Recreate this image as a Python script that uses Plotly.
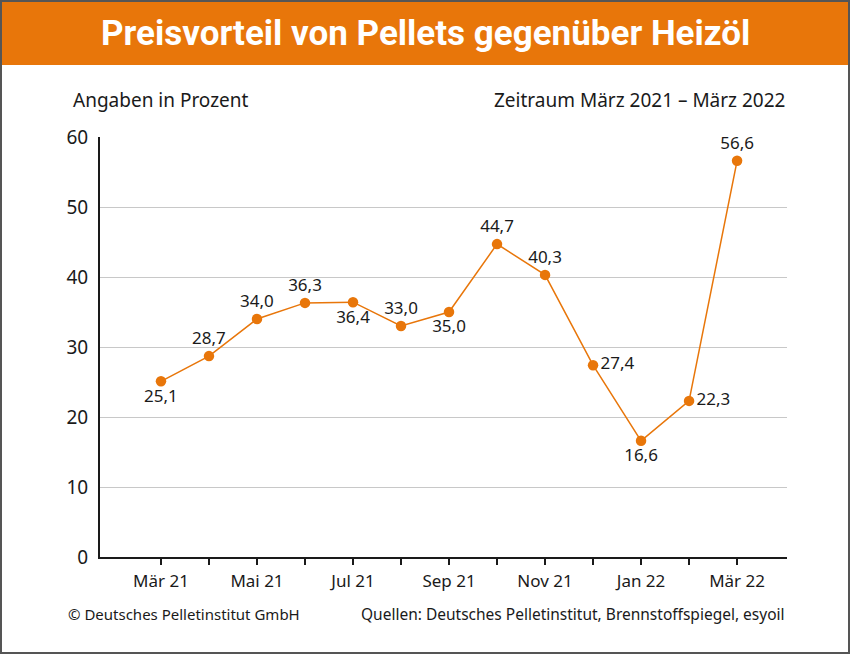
import plotly.graph_objects as go

months = ["Mär 21", "Apr 21", "Mai 21", "Jun 21", "Jul 21", "Aug 21", "Sep 21",
          "Okt 21", "Nov 21", "Dez 21", "Jan 22", "Feb 22", "Mär 22"]
values = [25.1, 28.7, 34.0, 36.3, 36.4, 33.0, 35.0, 44.7, 40.3, 27.4, 16.6, 22.3, 56.6]
label_pos = ["bottom center", "top center", "top center", "top center", "bottom center",
             "top center", "bottom center", "top center", "top center", "middle right",
             "bottom center", "middle right", "top center"]
shown_ticks = ["Mär 21", "Mai 21", "Jul 21", "Sep 21", "Nov 21", "Jan 22", "Mär 22"]
y_ticks = [0, 10, 20, 30, 40, 50, 60]

ORANGE = "#E8760A"
FONT = "Noto Sans"
W, H = 850, 654
L, R, T, B = 100, 787, 137, 557

def px(x):
    return (x - L) / (R - L)

def py(y):
    return (B - y) / (B - T)

idx = list(range(len(months)))
texts = [f"{v:.1f}".replace(".", ",") for v in values]

fig = go.Figure()
fig.add_trace(go.Scatter(
    x=idx, y=values, mode="lines+markers+text",
    line=dict(color=ORANGE, width=1.5),
    marker=dict(color=ORANGE, size=10.5),
    text=texts, textposition=label_pos,
    textfont=dict(family=FONT, size=17, color="#1a1a1a"),
    cliponaxis=False, hoverinfo="skip", showlegend=False,
))

fig.update_layout(
    width=W, height=H,
    margin=dict(l=L, r=W - R, t=T, b=H - B),
    paper_bgcolor="white", plot_bgcolor="white",
    font=dict(family=FONT, color="#1a1a1a"),
    xaxis=dict(
        range=[-1.27, 13.04],
        tickvals=idx,
        ticktext=[m if m in shown_ticks else "" for m in months],
        ticks="outside", ticklen=6, tickwidth=2, tickcolor="#1a1a1a",
        showline=True, linecolor="#1a1a1a", linewidth=2,
        showgrid=False, zeroline=False,
        tickfont=dict(family=FONT, size=17, color="#1a1a1a"),
        ticklabelstandoff=2,
    ),
    yaxis=dict(
        range=[0, 60], tickvals=y_ticks,
        showline=True, linecolor="#1a1a1a", linewidth=2,
        showgrid=True, gridcolor="#c8c8c8", gridwidth=1,
        zeroline=False, ticks="",
        tickfont=dict(family=FONT, size=19, color="#1a1a1a"),
        ticklabelstandoff=6,
    ),
    shapes=[
        dict(type="rect", xref="paper", yref="paper",
             x0=px(0), x1=px(W), y0=py(65), y1=py(0),
             fillcolor=ORANGE, line=dict(width=0), layer="below"),
        dict(type="rect", xref="paper", yref="paper",
             x0=px(1), x1=px(W - 1), y0=py(H - 1), y1=py(1),
             fillcolor="rgba(0,0,0,0)", line=dict(color="#555555", width=2)),
    ],
    annotations=[
        dict(text="<b>Preisvorteil von Pellets gegenüber Heizöl</b>", xref="paper", yref="paper",
             x=px(425), y=py(33), xanchor="center", yanchor="middle", showarrow=False,
             font=dict(family="Roboto", size=35, color="white")),
        dict(text="Angaben in Prozent", xref="paper", yref="paper",
             x=px(71), y=py(100), xanchor="left", yanchor="middle", showarrow=False,
             font=dict(family=FONT, size=19)),
        dict(text="Zeitraum März 2021 – März 2022", xref="paper", yref="paper",
             x=px(787), y=py(100), xanchor="right", yanchor="middle", showarrow=False,
             font=dict(family=FONT, size=19)),
        dict(text="© Deutsches Pelletinstitut GmbH", xref="paper", yref="paper",
             x=px(66), y=py(614), xanchor="left", yanchor="middle", showarrow=False,
             font=dict(family=FONT, size=15)),
        dict(text="Quellen: Deutsches Pelletinstitut, Brennstoffspiegel, esyoil", xref="paper", yref="paper",
             x=px(787), y=py(614), xanchor="right", yanchor="middle", showarrow=False,
             font=dict(family=FONT, size=15.5)),
    ],
)

fig.write_html("out.html")
